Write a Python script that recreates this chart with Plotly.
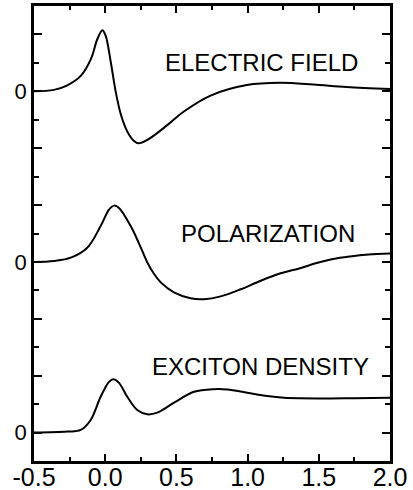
import plotly.graph_objects as go

# ---- data ----
ef_x = [-0.5, -0.36, -0.27, -0.17, -0.10, -0.055, -0.02, 0.003, 0.039, 0.074, 0.109, 0.14, 0.167,
        0.2, 0.235, 0.296, 0.436, 0.55, 0.74, 0.994, 1.228, 1.461, 1.695, 2.0]
ef_y = [0.0, 0.05, 0.2, 0.55, 1.14, 1.84, 2.15, 1.96, 1.03, -0.02, -0.80, -1.25, -1.52,
        -1.74, -1.83, -1.71, -1.19, -0.72, -0.15, 0.22, 0.30, 0.24, 0.15, 0.08]

pol_x = [-0.5, -0.36, -0.242, -0.126, -0.032, 0.027, 0.062, 0.097, 0.179, 0.24, 0.296, 0.34, 0.39,
         0.483, 0.6, 0.694, 0.811, 0.952, 1.092, 1.232, 1.368, 1.485, 1.6, 1.719, 1.85, 2.0]
pol_y = [0.0, 0.035, 0.15, 0.50, 1.26, 1.84, 1.98, 1.90, 1.26, 0.62, -0.02, -0.40, -0.72,
         -1.07, -1.28, -1.31, -1.21, -0.96, -0.66, -0.40, -0.22, -0.04, 0.10, 0.19, 0.26, 0.30]

exc_x = [-0.5, -0.266, -0.172, -0.102, -0.032, 0.027, 0.057, 0.097, 0.155, 0.225, 0.296, 0.366,
         0.483, 0.624, 0.764, 0.858, 0.998, 1.138, 1.256, 1.555, 1.75, 2.0]
exc_y = [0.0, 0.035, 0.093, 0.443, 1.259, 1.783, 1.876, 1.748, 1.259, 0.793, 0.641, 0.699,
         1.049, 1.434, 1.527, 1.515, 1.399, 1.282, 1.224, 1.20, 1.21, 1.22]

labels = ["ELECTRIC FIELD", "POLARIZATION", "EXCITON DENSITY"]
x_ticks = [-0.5, 0.0, 0.5, 1.0, 1.5, 2.0]
x_ticktext = ["-0.5", "0.0", "0.5", "1.0", "1.5", "2.0"]

# vertical offsets of the stacked traces (axis units)
offsets = [13, 7, 1]
label_pos = [(1.098, 14.03), (1.143, 7.99), (1.091, 3.32)]

FONT = "Liberation Sans, Arial, sans-serif"

fig = go.Figure()
for (xs, ys), off in zip([(ef_x, ef_y), (pol_x, pol_y), (exc_x, exc_y)], offsets):
    fig.add_trace(go.Scatter(
        x=xs, y=[v + off for v in ys], mode="lines",
        line=dict(color="black", width=2, shape="spline", smoothing=1.0),
        showlegend=False, hoverinfo="skip"))

for text, (lx, ly) in zip(labels, label_pos):
    fig.add_annotation(x=lx, y=ly, text=text, showarrow=False,
                       xanchor="center", yanchor="middle",
                       font=dict(family=FONT, size=24, color="black"))

y_major = list(range(1, 16, 2))
y_text = ["0" if v in offsets else "" for v in y_major]

fig.update_layout(
    width=413, height=490,
    margin=dict(l=34, r=23, t=6, b=29),
    paper_bgcolor="white", plot_bgcolor="white",
    xaxis=dict(range=[-0.5, 2.0], tickvals=x_ticks, ticktext=x_ticktext,
               ticks="inside", ticklen=7, tickwidth=2, tickcolor="black",
               showline=True, linecolor="black", linewidth=2.5, mirror="ticks",
               showgrid=False, zeroline=False, automargin=False,
               ticklabelstandoff=-8,
               tickfont=dict(family=FONT, size=25, color="black"),
               minor=dict(tickmode="linear", tick0=-0.5, dtick=0.25, ticks="inside",
                          ticklen=4, tickwidth=2, tickcolor="black", showgrid=False)),
    yaxis=dict(range=[0, 16], tickvals=y_major, ticktext=y_text,
               ticks="inside", ticklen=8, tickwidth=2, tickcolor="black",
               showline=True, linecolor="black", linewidth=2.5, mirror="ticks",
               showgrid=False, zeroline=False, automargin=False,
               tickfont=dict(family=FONT, size=22, color="black"),
               minor=dict(tickmode="linear", tick0=0, dtick=1, ticks="inside",
                          ticklen=5, tickwidth=2, tickcolor="black", showgrid=False)),
)

fig.write_html("out.html")
